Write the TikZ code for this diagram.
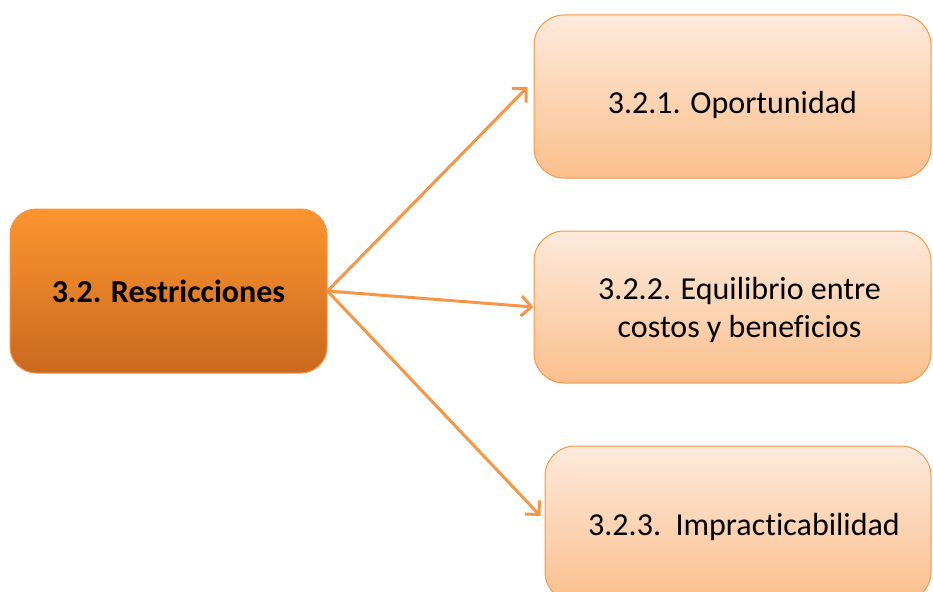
\documentclass[tikz,border=0pt]{standalone}
\usepackage{fontspec}
\setmainfont{Carlito}[Ligatures={NoCommon}]
\usetikzlibrary{arrows.meta}
\definecolor{lineor}{HTML}{F79646}
\definecolor{maintop}{HTML}{FC952F}
\definecolor{mainbot}{HTML}{CA691F}
\definecolor{subtop}{HTML}{FDEADC}
\definecolor{subbot}{HTML}{FBBF8C}
\newcommand{\lowertext}[2]{\raisebox{-#1}[\height][\depth]{#2}}
\tikzset{
  mainbox/.style={draw=lineor, line width=1pt, rounded corners=26pt, top color=maintop, bottom color=mainbot, inner sep=0pt, font=\fontsize{32}{38}\selectfont\bfseries, text=black},
  subbox/.style={draw=lineor, line width=1pt, rounded corners=30pt, top color=subtop, bottom color=subbot, inner sep=0pt, font=\fontsize{32}{38}\selectfont, text=black, align=center},
  conn/.style={draw=lineor, line width=3pt, -{Straight Barb[length=10pt,width=20pt,line width=3pt]}}
}
\begin{document}
\begin{tikzpicture}[x=1pt,y=-1pt]
\useasboundingbox (0,0) rectangle (933,591);
\clip (0,0) rectangle (933,591);
\node[mainbox, minimum width=317pt, minimum height=164pt] (main) at (168.5,291) {3.2. Restricciones};
\node[subbox, minimum width=397pt, minimum height=163pt] (b1) at (732.5,96.5) {\lowertext{8pt}{3.2.1. Oportunidad}};
\node[subbox, minimum width=397pt, minimum height=152pt] (b2) at (732.5,307) {\lowertext{3pt}{\hspace*{14pt}3.2.2. Equilibrio entre}\\\lowertext{3pt}{\hspace*{14pt}costos y beneficios}};
\node[subbox, minimum width=386pt, minimum height=156pt] (b3) at (738,524) {\lowertext{3pt}{\hspace*{12pt}3.2.3.\ \ Impracticabilidad}};
\draw[conn] (main.east) -- ([shift={(-6,-9.5)}]b1.west);
\draw[conn] (main.east) -- (b2.west);
\draw[conn] (main.east) -- ([shift={(-4,-8)}]b3.west);
\end{tikzpicture}
\end{document}
